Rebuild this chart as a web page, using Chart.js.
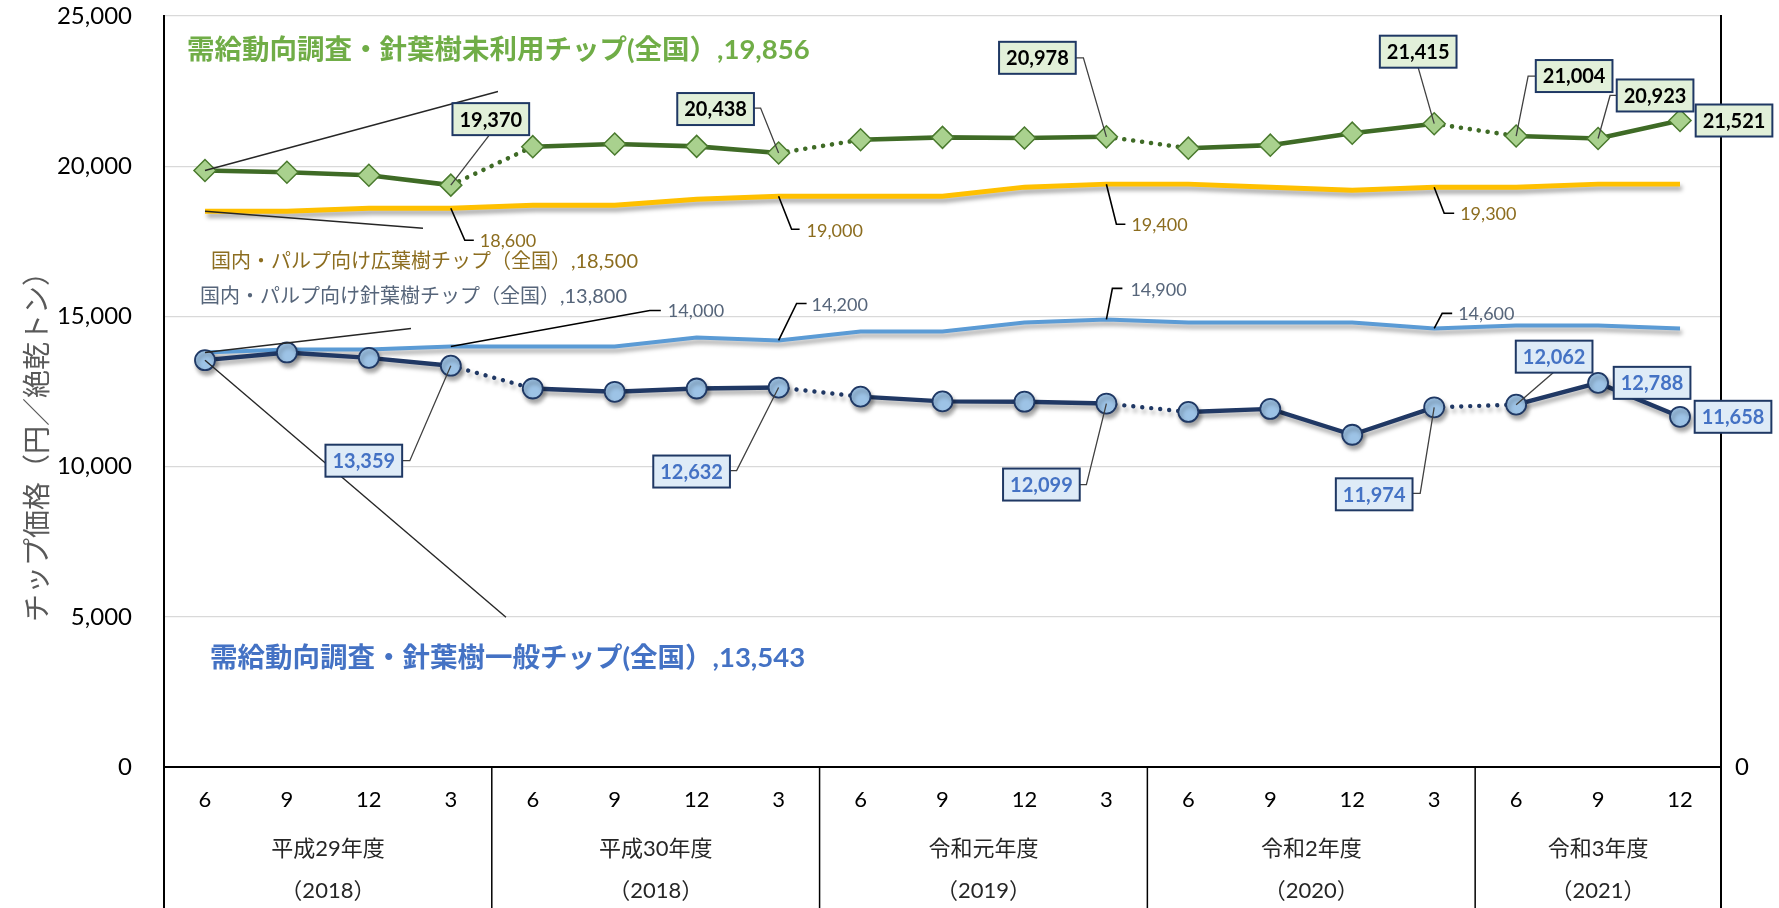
<!DOCTYPE html>
<html lang="ja">
<head>
<meta charset="utf-8">
<title>チップ価格の推移</title>
<script src="https://cdn.jsdelivr.net/npm/chart.js@4.4.1/dist/chart.umd.min.js"></script>
<style>
  html, body { margin: 0; padding: 0; background: #fff; }
  canvas { display: block; }
</style>
</head>
<body>
<canvas id="chipChart" width="1779" height="908"></canvas>
<script>
// 四半期の月ラベルと年度の区切り
var months = ['6', '9', '12', '3', '6', '9', '12', '3', '6', '9', '12', '3', '6', '9', '12', '3', '6', '9', '12'];
var fiscalYears = ['平成29年度', '平成30年度', '令和元年度', '令和2年度', '令和3年度'];
var westernYears = ['（2018）', '（2018）', '（2019）', '（2020）', '（2021）'];
var groupSizes = [4, 4, 4, 4, 3];

var seriesNames = [
    '需給動向調査・針葉樹未利用チップ(全国）',
    '国内・パルプ向け広葉樹チップ（全国）',
    '国内・パルプ向け針葉樹チップ（全国）',
    '需給動向調査・針葉樹一般チップ(全国）'
];

// 円／絶乾トン
var unusedChip   = [19856, 19800, 19700, 19370, 20650, 20740, 20660, 20438, 20880, 20960, 20940, 20978, 20600, 20700, 21100, 21415, 21004, 20923, 21521];
var hardwoodPulp = [18500, 18500, 18600, 18600, 18700, 18700, 18900, 19000, 19000, 19000, 19300, 19400, 19400, 19300, 19200, 19300, 19300, 19400, 19400];
var softwoodPulp = [13800, 13900, 13900, 14000, 14000, 14000, 14300, 14200, 14500, 14500, 14800, 14900, 14800, 14800, 14800, 14600, 14700, 14700, 14600];
var generalChip  = [13543, 13800, 13620, 13359, 12600, 12490, 12600, 12632, 12330, 12170, 12160, 12099, 11820, 11920, 11060, 11974, 12062, 12788, 11658];

var yTicks = [0, 5000, 10000, 15000, 20000, 25000];

var JP = "Lato, 'Noto Sans CJK JP', sans-serif";
var fmt = function (v) { return v.toLocaleString('en-US'); };

// 年度の変わり目（3月→6月）は点線でつなぐ
var dotted = function (ctx) { return ctx.p0DataIndex % 4 === 3 ? [0.01, 9] : undefined; };

// データラベルの位置（点からのずれ, px）
var callouts = [
    { ds: 0, at: 3,  box: [40, -66],  leader: [[40, -52]] },
    { ds: 0, at: 7,  box: [-63, -44], leader: [[-18, -45], [-26, -45]] },
    { ds: 0, at: 11, box: [-69, -79], leader: [[-23, -79], [-32, -79]] },
    { ds: 0, at: 15, box: [-16, -72], leader: [[-16, -56]] },
    { ds: 0, at: 16, box: [58, -60],  leader: [[12, -60], [21, -60]] },
    { ds: 0, at: 17, box: [57, -43],  leader: [[12, -43], [20, -43]] },
    { ds: 0, at: 18, box: [54, 0] },
    { ds: 3, at: 3,  box: [-87, 95],  leader: [[-41, 95], [-50, 95]] },
    { ds: 3, at: 7,  box: [-87, 84],  leader: [[-42, 83], [-50, 83]] },
    { ds: 3, at: 11, box: [-65, 81],  leader: [[-20, 81], [-28, 81]] },
    { ds: 3, at: 15, box: [-60, 87],  leader: [[-14, 86], [-23, 86]] },
    { ds: 3, at: 16, box: [38, -48],  leader: [[37, -32]] },
    { ds: 3, at: 17, box: [54, 0] },
    { ds: 3, at: 18, box: [53, 0] },
    { ds: 1, at: 3,  text: [29, 33],  leader: [[14, 32], [23, 32]] },
    { ds: 1, at: 7,  text: [28, 35],  leader: [[13, 33], [21, 33]] },
    { ds: 1, at: 11, text: [25, 41],  leader: [[10, 40], [19, 40]] },
    { ds: 1, at: 15, text: [26, 27],  leader: [[10, 26], [20, 26]] },
    { ds: 2, at: 3,  text: [217, -35], leader: [[199, -36], [210, -36]] },
    { ds: 2, at: 7,  text: [33, -35], leader: [[18, -37], [28, -37]] },
    { ds: 2, at: 11, text: [24, -29], leader: [[6, -31], [16, -31]] },
    { ds: 2, at: 15, text: [24, -14], leader: [[8, -15], [18, -15]] }
];

// 系列名ラベル（先頭の点から）
var nameLabels = [
    { ds: 0, text: [-18, -120], line: [293, -79], font: 'bold 27.5px ' + JP, color: '#70ad47' },
    { ds: 1, text: [6, 50],     line: [218, 17],  font: '20px ' + JP,        color: '#8c6d1f' },
    { ds: 2, text: [-5, -56],   line: [206, -24], font: '20px ' + JP,        color: '#56657a' },
    { ds: 3, text: [5, 298],    line: [301, 257], font: 'bold 27.5px ' + JP, color: '#4472c4' }
];

var boxStyle = {
    0: { fill: '#e2f0d9', color: '#000000' },
    3: { fill: '#deebf7', color: '#4472c4' }
};
var textColor = { 1: '#8c6d1f', 2: '#56657a' };
var shadowed = { 1: true, 2: true, 3: true };

var shadowPlugin = {
    id: 'lineShadow',
    beforeDatasetDraw: function (chart, args) {
        if (!shadowed[args.index]) return;
        var ctx = chart.ctx;
        ctx.save();
        ctx.shadowColor = 'rgba(0,0,0,0.35)';
        ctx.shadowBlur = 4;
        ctx.shadowOffsetX = 2;
        ctx.shadowOffsetY = 4;
    },
    afterDatasetDraw: function (chart, args) {
        if (shadowed[args.index]) chart.ctx.restore();
    }
};

// 年度の枠線・年度ラベル・縦軸タイトル
var framePlugin = {
    id: 'fiscalFrame',
    afterDraw: function (chart) {
        var ctx = chart.ctx, area = chart.chartArea, x = chart.scales.x;
        var H = chart.height;
        ctx.save();
        ctx.strokeStyle = '#000';
        ctx.lineWidth = 2;
        ctx.beginPath();
        ctx.moveTo(area.left, area.bottom); ctx.lineTo(area.left, H);
        ctx.moveTo(area.right, area.bottom); ctx.lineTo(area.right, H);
        ctx.stroke();

        var start = 0;
        ctx.lineWidth = 1.5;
        ctx.fillStyle = '#262626';
        ctx.font = '22px ' + JP;
        ctx.textAlign = 'center';
        ctx.textBaseline = 'middle';
        groupSizes.forEach(function (n, g) {
            var end = start + n - 1;
            if (g > 0) {
                var bx = (x.getPixelForTick(start - 1) + x.getPixelForTick(start)) / 2;
                ctx.beginPath();
                ctx.moveTo(bx, area.bottom); ctx.lineTo(bx, H);
                ctx.stroke();
            }
            var cx = (x.getPixelForTick(start) + x.getPixelForTick(end)) / 2;
            ctx.fillText(fiscalYears[g], cx, area.bottom + 82);
            ctx.fillText(westernYears[g], cx, area.bottom + 124);
            start += n;
        });

        ctx.translate(36, 440);
        ctx.rotate(-Math.PI / 2);
        ctx.fillStyle = '#595959';
        ctx.font = "28px 'Noto Sans CJK JP', sans-serif";
        ctx.fillText('チップ価格（円／絶乾トン）', 0, 0);
        ctx.restore();
    }
};

var calloutPlugin = {
    id: 'callouts',
    afterDatasetsDraw: function (chart) {
        var ctx = chart.ctx;
        var pt = function (ds, i) { return chart.getDatasetMeta(ds).data[i]; };
        ctx.save();

        nameLabels.forEach(function (n) {
            var p = pt(n.ds, 0);
            ctx.strokeStyle = '#262626';
            ctx.lineWidth = 1.4;
            ctx.beginPath();
            ctx.moveTo(p.x, p.y);
            ctx.lineTo(p.x + n.line[0], p.y + n.line[1]);
            ctx.stroke();
        });

        callouts.forEach(function (c) {
            if (!c.leader) return;
            var p = pt(c.ds, c.at);
            ctx.strokeStyle = c.box ? '#404040' : '#000';
            ctx.lineWidth = c.box ? 1.3 : 1.6;
            ctx.beginPath();
            ctx.moveTo(p.x, p.y);
            c.leader.forEach(function (d) { ctx.lineTo(p.x + d[0], p.y + d[1]); });
            ctx.stroke();
        });

        ctx.textBaseline = 'middle';
        callouts.forEach(function (c) {
            var p = pt(c.ds, c.at);
            var label = fmt(chart.data.datasets[c.ds].data[c.at]);
            if (c.box) {
                var st = boxStyle[c.ds];
                ctx.font = 'bold 20px Lato, sans-serif';
                var w = ctx.measureText(label).width + 14, h = 32;
                var cx = p.x + c.box[0], cy = p.y + c.box[1];
                ctx.fillStyle = st.fill;
                ctx.fillRect(cx - w / 2, cy - h / 2, w, h);
                ctx.strokeStyle = '#1f3864';
                ctx.lineWidth = 2;
                ctx.strokeRect(cx - w / 2, cy - h / 2, w, h);
                ctx.fillStyle = st.color;
                ctx.textAlign = 'center';
                ctx.fillText(label, cx, cy + 1);
            } else {
                ctx.font = '18px Lato, sans-serif';
                ctx.fillStyle = textColor[c.ds];
                ctx.textAlign = 'left';
                ctx.fillText(label, p.x + c.text[0], p.y + c.text[1]);
            }
        });

        ctx.textAlign = 'left';
        nameLabels.forEach(function (n) {
            var p = pt(n.ds, 0);
            ctx.font = n.font;
            ctx.fillStyle = n.color;
            ctx.fillText(seriesNames[n.ds] + ',' + fmt(chart.data.datasets[n.ds].data[0]), p.x + n.text[0], p.y + n.text[1]);
        });
        ctx.restore();
    }
};

// 縦軸の幅を固定し、目盛ラベル分の上下余白は取らない
function fixVertical(width) {
    return function (s) {
        s.width = width;
        s.paddingTop = 0;
        s.paddingBottom = 0;
    };
}

new Chart(document.getElementById('chipChart'), {
    type: 'line',
    data: {
        labels: months,
        datasets: [{
            label: seriesNames[0],
            data: unusedChip,
            order: 1,
            borderColor: '#3f6b26',
            borderWidth: 4.6,
            borderCapStyle: 'round',
            pointStyle: 'rectRot',
            pointRadius: 11,
            pointBackgroundColor: '#a9d18e',
            pointBorderColor: '#4a7a2e',
            pointBorderWidth: 1.5,
            segment: { borderDash: dotted }
        },
        {
            label: seriesNames[1],
            data: hardwoodPulp,
            order: 2,
            borderColor: '#ffc000',
            borderWidth: 4.8,
            pointRadius: 0
        },
        {
            label: seriesNames[2],
            data: softwoodPulp,
            order: 3,
            borderColor: '#5b9bd5',
            borderWidth: 4,
            pointRadius: 0
        },
        {
            label: seriesNames[3],
            data: generalChip,
            order: 0,
            borderColor: '#203864',
            borderWidth: 4.4,
            borderCapStyle: 'round',
            pointStyle: 'circle',
            pointRadius: 10,
            pointBackgroundColor: '#9dc3e6',
            pointBorderColor: '#1f3864',
            pointBorderWidth: 1.8,
            segment: { borderDash: dotted }
        }]
    },
    options: {
        responsive: false,
        animation: false,
        events: [],
        locale: 'en-US',
        layout: { padding: { top: 16, left: 0, right: 0, bottom: 0 } },
        plugins: {
            legend: { display: false },
            tooltip: { enabled: false }
        },
        scales: {
            x: {
                offset: true,
                grid: { display: false, drawTicks: false },
                border: { display: true, color: '#000', width: 2 },
                ticks: { color: '#000', font: { family: JP, size: 22 }, padding: 20, maxRotation: 0, autoSkip: false },
                afterFit: function (s) { s.height = 141; s.paddingLeft = 0; s.paddingRight = 0; }
            },
            y: {
                min: 0,
                max: 25000,
                afterBuildTicks: function (s) { s.ticks = yTicks.map(function (v) { return { value: v }; }); },
                ticks: { color: '#000', font: { family: JP, size: 24 }, padding: 32 },
                grid: {
                    color: function (c) { return c.tick && c.tick.value === 0 ? 'rgba(0,0,0,0)' : '#d9d9d9'; },
                    lineWidth: 1.3,
                    drawTicks: false
                },
                border: { color: '#000', width: 2 },
                afterFit: fixVertical(164)
            },
            y2: {
                position: 'right',
                min: 0,
                max: 25000,
                afterBuildTicks: function (s) { s.ticks = [{ value: 0 }]; },
                ticks: { color: '#000', font: { family: JP, size: 24 }, padding: 14 },
                grid: { display: false, drawTicks: false },
                border: { color: '#000', width: 2 },
                afterFit: fixVertical(58)
            }
        }
    },
    plugins: [shadowPlugin, framePlugin, calloutPlugin]
});
</script>
</body>
</html>
